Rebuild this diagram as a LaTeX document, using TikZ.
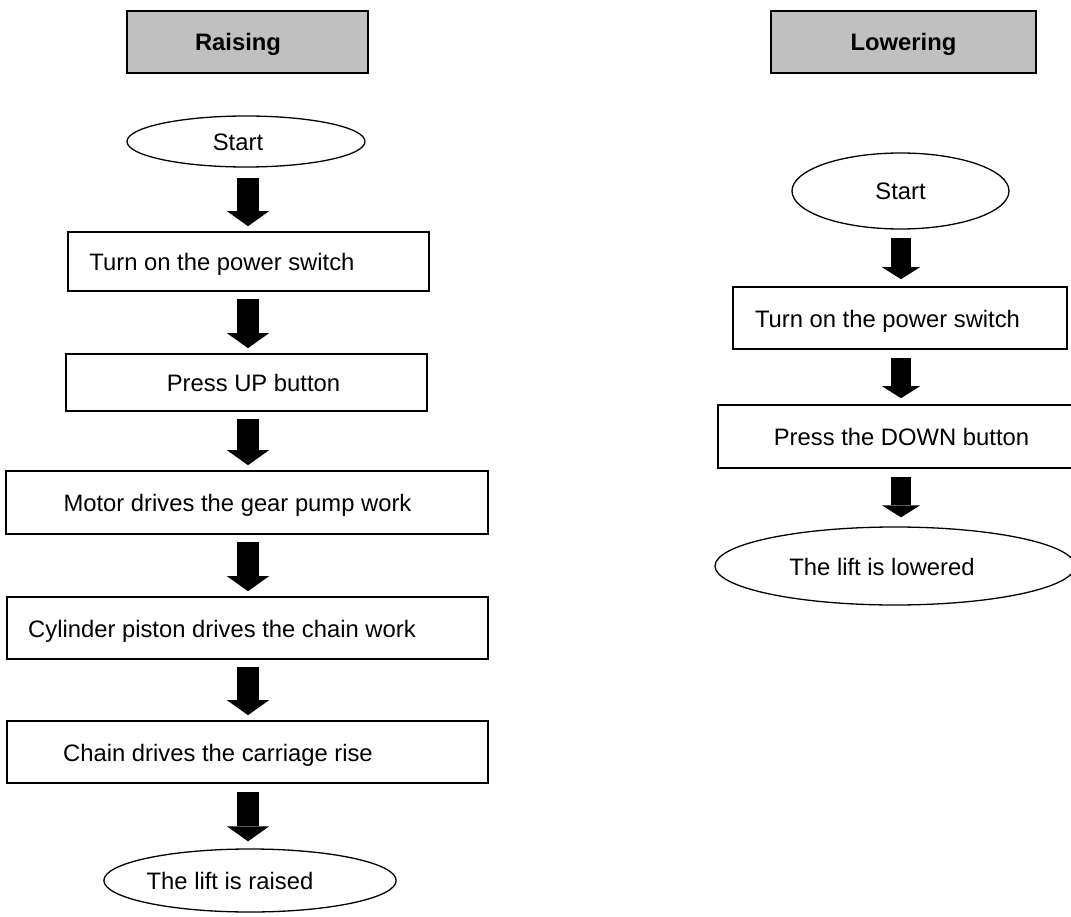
\documentclass[tikz,border=0pt]{standalone}
\usepackage{fontspec}
\setmainfont{Liberation Sans}
\usetikzlibrary{shapes.geometric,arrows.meta}
\definecolor{headgray}{HTML}{C0C0C0}
\begin{document}
\begin{tikzpicture}[x=1pt,y=-1pt,
  every node/.style={font=\fontsize{23.8}{28}\selectfont, inner sep=0pt, text height=18pt, text depth=0pt},
  box/.style={draw, line width=1.6pt, rectangle},
  oval/.style={draw, ellipse, line width=1.3pt},
  head/.style={draw, line width=1.6pt, fill=headgray, font=\fontsize{23.8}{28}\selectfont\bfseries},
  arrL/.style={line width=22pt, -{Triangle[width=42pt,length=15pt,line width=0pt]}, shorten <=7pt, shorten >=5pt},
  arrR/.style={line width=20pt, -{Triangle[width=38pt,length=12pt,line width=0pt]}, shorten <=8pt, shorten >=7pt}]
\useasboundingbox (0,0) rectangle (1071,917);
\clip (0,0) rectangle (1071,917);
\fill[white] (0,0) rectangle (1071,917);
\coordinate (colL) at (248,0);
\coordinate (colR) at (901,0);
% Raising column
\node[head, minimum width=241pt, minimum height=62pt] (hL) at (247.5,42) {Raising\hspace*{19pt}};
\node[oval, minimum width=238pt, minimum height=51pt] (sL) at (246,141.5) {Start\hspace*{16pt}};
\node[box, minimum width=361pt, minimum height=59pt] (L1) at (248.5,261.5) {Turn on the power switch\hspace*{53pt}};
\node[box, minimum width=361pt, minimum height=57pt] (L2) at (246.5,382.5) {\hspace*{14pt}Press UP button};
\node[box, minimum width=482pt, minimum height=63pt] (L3) at (247,502.5) {Motor drives the gear pump work\hspace*{19pt}};
\node[box, minimum width=481pt, minimum height=62pt] (L4) at (247.5,628) {Cylinder piston drives the chain work\hspace*{51pt}};
\node[box, minimum width=481pt, minimum height=62pt] (L5) at (247.5,752) {Chain drives the carriage rise\hspace*{59pt}};
\node[oval, minimum width=282pt, minimum height=63pt] (eL) at (250,880.5) {The lift is raised\hspace*{40pt}};
\draw[arrL, shorten <=10pt] (sL.south -| colL) -- (L1.north -| colL);
\draw[arrL] (L1.south -| colL) -- (L2.north -| colL);
\draw[arrL] (L2.south -| colL) -- (L3.north -| colL);
\draw[arrL] (L3.south -| colL) -- (L4.north -| colL);
\draw[arrL] (L4.south -| colL) -- (L5.north -| colL);
\draw[arrL, shorten <=8pt, shorten >=7pt] (L5.south -| colL) -- (eL.north -| colL);
% Lowering column
\node[head, minimum width=265pt, minimum height=62pt] (hR) at (903.5,42) {Lowering};
\node[oval, minimum width=217pt, minimum height=76pt] (sR) at (900.5,191) {Start};
\node[box, minimum width=334pt, minimum height=62pt] (R1) at (900,318) {Turn on the power switch\hspace*{25pt}};
\node[box, minimum width=367pt, minimum height=63pt] (R2) at (901.5,436.5) {Press the DOWN button};
\node[oval, minimum width=360pt, minimum height=78pt] (eR) at (895,566) {The lift is lowered\hspace*{26pt}};
\draw[arrR] (sR.south -| colR) -- (R1.north -| colR);
\draw[arrR, shorten >=6pt] (R1.south -| colR) -- (R2.north -| colR);
\draw[arrR, shorten >=9pt] (R2.south -| colR) -- (eR.north -| colR);
\end{tikzpicture}
\end{document}
